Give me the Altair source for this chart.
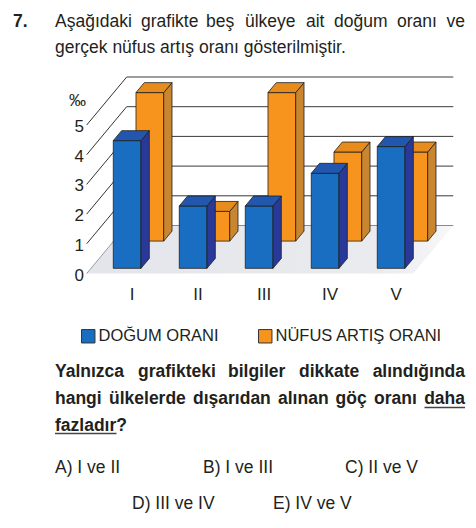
import altair as alt
import pandas as pd

# ---------------- data ----------------
countries = ["I", "II", "III", "IV", "V"]
dogum_orani = [4.3, 2.1, 2.1, 3.2, 4.1]
nufus_artis = [5.0, 1.0, 5.0, 3.0, 3.0]
series_names = ["DOĞUM ORANI", "NÜFUS ARTIŞ ORANI"]
y_ticks = [0, 1, 2, 3, 4, 5]

# ---------------- style / geometry ----------------
FONT = "Liberation Sans"
TXT = "#231f20"
BLUE = {"front": "#1a6ec2", "side": "#29399a", "top": "#2157ae"}
ORANGE = {"front": "#f7941e", "side": "#c9862f", "top": "#e78b1c"}
EDGE = "#1f1f1f"

SPACING_PX = 66.0      # pixels between categories
UNIT_PX = 29.7         # pixels per value unit
SLOPE = 1.2            # depth: vertical shift per horizontal shift
KX = 1.0 / SPACING_PX
KY = SLOPE / UNIT_PX
W = 0.42               # bar width in category units
Z_BLUE = (4.3, 12.6)
Z_ORANGE = (27.0, 35.3)
Z_BACK = 40.0
U_LEFT, U_RIGHT = -0.548, 4.40

x_scale = alt.Scale(domain=[0, 4], range=[122.85, 386.85], nice=False, zero=False)
y_scale = alt.Scale(domain=[0, 6], range=[273.5, 95.3], nice=False, zero=False)
color_scale = alt.Scale(domain=series_names, range=[BLUE["front"], ORANGE["front"]])


def X(f, **kw):
    return alt.X(f, scale=x_scale, axis=None, **kw)


def Y(f, **kw):
    return alt.Y(f, scale=y_scale, axis=None, **kw)


# ---------------- floor and walls ----------------
floor_df = pd.DataFrame({
    "y": [0.0, Z_BACK * KY],
    "x": [U_LEFT, U_LEFT + Z_BACK * KX],
    "x2": [U_RIGHT, U_RIGHT + Z_BACK * KX],
})
floor = alt.Chart(floor_df).mark_area(
    orient="horizontal",
    fill=alt.Gradient(gradient="linear", x1=0, x2=1, y1=0, y2=0,
                      stops=[alt.GradientStop(color="#e4e5ea", offset=0),
                             alt.GradientStop(color="#eaebef", offset=0.8),
                             alt.GradientStop(color="#f8f8fa", offset=1)]),
).encode(y=Y("y:Q"), x=X("x:Q"), x2="x2:Q")

back_df = pd.DataFrame({
    "v": y_ticks,
    "y": [v + Z_BACK * KY for v in y_ticks],
    "x": [U_LEFT + Z_BACK * KX] * len(y_ticks),
    "x2": [U_RIGHT + Z_BACK * KX] * len(y_ticks),
})
back_lines = alt.Chart(back_df).mark_rule(strokeWidth=1).encode(
    x=X("x:Q"), x2="x2:Q", y=Y("y:Q"),
    color=alt.condition(alt.datum.v == 0, alt.value("#8a8a8a"), alt.value("#3a3a3a")),
)

side_df = pd.DataFrame({
    "v": y_ticks,
    "x": [U_LEFT] * len(y_ticks),
    "x2": [U_LEFT + Z_BACK * KX] * len(y_ticks),
    "y": y_ticks,
    "y2": [v + Z_BACK * KY for v in y_ticks],
})
left_lines = alt.Chart(side_df).mark_rule(strokeWidth=1).encode(
    x=X("x:Q"), x2="x2:Q", y=Y("y:Q"), y2="y2:Q",
    color=alt.condition(alt.datum.v == 0, alt.value("#9a9a9a"), alt.value("#333333")),
)


# ---------------- 3D bars ----------------
def bar_layers(name, values, z, cols):
    zf, zb = z
    front, side, top = [], [], []
    for i, (c, v) in enumerate(zip(countries, values)):
        key = f"{name}-{c}"
        front.append(dict(series=name, country=c, value=v,
                          x=i - W / 2 + zf * KX, x2=i + W / 2 + zf * KX,
                          y=zf * KY, y2=v + zf * KY))
        for zz in (zf, zb):
            side.append(dict(key=key, x=i + W / 2 + zz * KX, y=zz * KY, y2=v + zz * KY))
            top.append(dict(key=key, y=v + zz * KY,
                            x=i - W / 2 + zz * KX, x2=i + W / 2 + zz * KX))
    f = alt.Chart(pd.DataFrame(front)).mark_rect(stroke=EDGE, strokeWidth=0.8).encode(
        x=X("x:Q"), x2="x2:Q", y=Y("y:Q"), y2="y2:Q",
        color=alt.Color("series:N", scale=color_scale, legend=alt.Legend(
            title=None, orient="none", legendX=80, legendY=328, direction="horizontal",
            symbolType="square", symbolSize=180, symbolStrokeColor="#333",
            symbolStrokeWidth=1, labelFont=FONT, labelFontSize=16.5, labelColor=TXT,
            labelOffset=2, labelLimit=400, columnPadding=37, padding=0,
            symbolOffset=0)),
    )
    s = alt.Chart(pd.DataFrame(side)).mark_area(
        color=cols["side"], stroke=EDGE, strokeWidth=0.8, orient="vertical"
    ).encode(x=X("x:Q"), y=Y("y:Q"), y2="y2:Q", detail="key:N")
    t = alt.Chart(pd.DataFrame(top)).mark_area(
        color=cols["top"], stroke=EDGE, strokeWidth=0.8, orient="horizontal"
    ).encode(y=Y("y:Q"), x=X("x:Q"), x2="x2:Q", detail="key:N")
    return [f, s, t]


orange_bars = bar_layers(series_names[1], nufus_artis, Z_ORANGE, ORANGE)
blue_bars = bar_layers(series_names[0], dogum_orani, Z_BLUE, BLUE)

# ---------------- axis labels ----------------
cat_df = pd.DataFrame({"country": countries, "u": [i + 0.14 for i in range(len(countries))]})
cat_labels = alt.Chart(cat_df).mark_text(
    font=FONT, fontSize=17, color=TXT, baseline="alphabetic"
).encode(x=X("u:Q"), y=alt.value(299.5), text="country:N")

tick_df = pd.DataFrame({"v": y_ticks})
tick_labels = alt.Chart(tick_df).mark_text(
    font=FONT, fontSize=17, color=TXT, align="right", baseline="middle", dy=2
).encode(x=alt.value(84), y=Y("v:Q"), text="v:Q")

one = pd.DataFrame({"a": [0]})
SIZE = 17.5


def txt(s, x, y, size=SIZE, bold=False, align="left"):
    return alt.Chart(one).mark_text(
        font=FONT, fontSize=size, color=TXT, align=align, baseline="alphabetic",
        fontWeight="bold" if bold else "normal",
    ).encode(x=alt.value(x), y=alt.value(y), text=alt.value(s))


permille = txt("‰", 77.5, 106, size=17, align="center")

texts = [txt("7.", 13, 26.5, bold=True)]
# justified first line (word start positions); last word right-aligned to the margin
line1 = [("Aşağıdaki", 55), ("grafikte", 141), ("beş", 206), ("ülkeye", 245),
         ("ait", 306), ("doğum", 334), ("oranı", 397)]
texts += [txt(w, x, 26.5) for w, x in line1]
texts.append(txt("ve", 465, 26.5, align="right"))
texts.append(txt("gerçek nüfus artış oranı gösterilmiştir.", 55, 53.3))

q1 = [("Yalnızca", 55), ("grafikteki", 138), ("bilgiler", 228), ("dikkate", 299)]
q2 = [("hangi", 55), ("ülkelerde", 109), ("dışarıdan", 193), ("alınan", 278),
      ("göç", 335.5), ("oranı", 374)]
texts += [txt(w, x, 377.3, bold=True) for w, x in q1]
texts.append(txt("alındığında", 465, 377.3, bold=True, align="right"))
texts += [txt(w, x, 404, bold=True) for w, x in q2]
texts.append(txt("daha", 465, 404, bold=True, align="right"))
texts.append(txt("fazladır?", 55, 430.5, bold=True))

opts = [("A) I ve II", 55, 472.7), ("B) I ve III", 203, 472.7), ("C) II ve V", 345, 472.7),
        ("D) III ve IV", 132, 509.3), ("E) IV ve V", 273, 509.3)]
texts += [txt(s, x, y) for s, x, y in opts]


def underline(x1, x2, y):
    return alt.Chart(one).mark_rule(color="#444", strokeWidth=1.3).encode(
        x=alt.value(x1), x2=alt.value(x2), y=alt.value(y))


underlines = [underline(424.5, 465, 407.5), underline(55, 116.5, 433.5)]

chart = alt.layer(
    floor, back_lines, left_lines, *orange_bars, *blue_bars,
    cat_labels, tick_labels, permille, *texts, *underlines,
).properties(
    width=476, height=528, padding=0,
    autosize=alt.AutoSizeParams(type="none"),
).configure_view(stroke=None)

chart.save("out.html", embed_options={"renderer": "svg", "actions": False})
